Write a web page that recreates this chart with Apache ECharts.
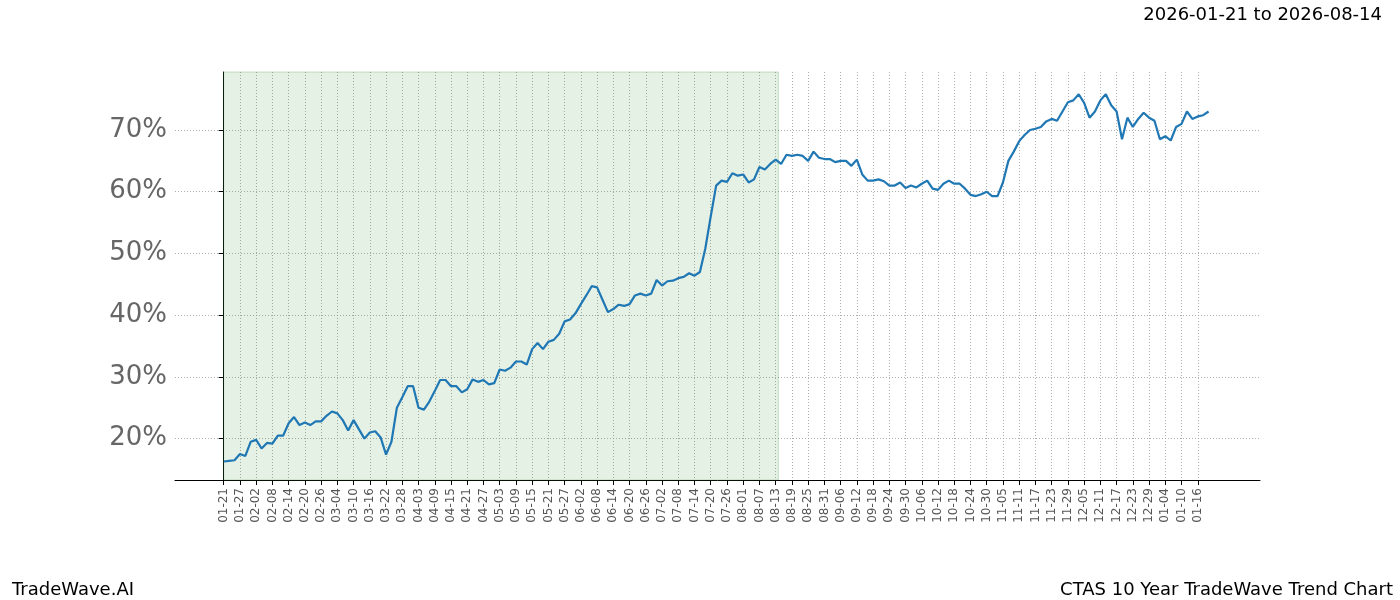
<!DOCTYPE html>
<html>
<head>
<meta charset="utf-8">
<script src="https://cdn.jsdelivr.net/npm/echarts@6/dist/echarts.min.js"></script>
<style>
html, body { margin: 0; padding: 0; background: #fff; }
#main { width: 1400px; height: 600px; }
</style>
</head>
<body>
<div id="main"></div>
<script>
// trend values, one point every 2 days starting 2026-01-21 (%)
var trendValues = [
	16.3, 16.4, 16.5, 17.5, 17.2, 19.5, 19.8, 18.4, 19.3, 19.2,
	20.5, 20.5, 22.5, 23.5, 22.2, 22.6, 22.2, 22.8, 22.8, 23.7,
	24.4, 24.1, 23, 21.3, 23, 21.5, 20, 21, 21.2, 20.2,
	17.4, 19.5, 25, 26.7, 28.5, 28.5, 25, 24.7, 26, 27.7,
	29.5, 29.5, 28.5, 28.5, 27.5, 28, 29.6, 29.2, 29.5, 28.8,
	29, 31.2, 31, 31.5, 32.5, 32.5, 32, 34.5, 35.5, 34.5,
	35.7, 36, 37, 39, 39.3, 40.3, 41.8, 43.2, 44.7, 44.5,
	42.5, 40.5, 41, 41.7, 41.5, 41.8, 43.2, 43.5, 43.2, 43.5,
	45.7, 44.8, 45.5, 45.6, 46, 46.2, 46.8, 46.4, 47, 50.8,
	56, 61, 61.8, 61.6, 63, 62.6, 62.8, 61.5, 62, 64,
	63.6, 64.5, 65.2, 64.5, 66, 65.8, 66, 65.8, 65, 66.5,
	65.5, 65.3, 65.3, 64.8, 65, 65, 64.2, 65.2, 62.8, 61.8,
	61.8, 62, 61.7, 61, 61, 61.5, 60.6, 61, 60.7, 61.3,
	61.8, 60.5, 60.3, 61.3, 61.8, 61.3, 61.3, 60.5, 59.5, 59.3,
	59.6, 60, 59.3, 59.3, 61.5, 65, 66.5, 68.2, 69.2, 70,
	70.2, 70.5, 71.4, 71.8, 71.5, 73, 74.5, 74.8, 75.8, 74.4,
	72, 73, 74.8, 75.8, 74, 73, 68.5, 72, 70.5, 71.8,
	72.8, 72, 71.5, 68.5, 69, 68.3, 70.5, 71, 73, 71.8,
	72.2, 72.4, 73
];
// x tick labels, every 6 days (every 3rd point)
var tickLabels = [
	'01-21','01-27','02-02','02-08','02-14','02-20','02-26','03-04','03-10','03-16',
	'03-22','03-28','04-03','04-09','04-15','04-21','04-27','05-03','05-09','05-15',
	'05-21','05-27','06-02','06-08','06-14','06-20','06-26','07-02','07-08','07-14',
	'07-20','07-26','08-01','08-07','08-13','08-19','08-25','08-31','09-06','09-12',
	'09-18','09-24','09-30','10-06','10-12','10-18','10-24','10-30','11-05','11-11',
	'11-17','11-23','11-29','12-05','12-11','12-17','12-23','12-29','01-04','01-10',
	'01-16'
];
var yTicks = [20, 30, 40, 50, 60, 70];
var shadeStart = 0, shadeEnd = 102.5;

var seriesData = trendValues.map(function (v, i) { return [i, v]; });
var xTickValues = tickLabels.map(function (s, k) { return k * 3; });

var chart = echarts.init(document.getElementById('main'));
chart.setOption({
	animation: false,
	grid: { left: 175, right: 140, top: 72, bottom: 120 },
	title: [
		{ text: '2026-01-21 to 2026-08-14', right: 13, top: 1, textStyle: { fontSize: 18, fontWeight: 'normal', color: '#000', fontFamily: 'DejaVu Sans' } },
		{ text: 'TradeWave.AI', left: 7, top: 576, textStyle: { fontSize: 18, fontWeight: 'normal', color: '#000', fontFamily: 'DejaVu Sans' } },
		{ text: 'CTAS 10 Year TradeWave Trend Chart', right: 2, top: 576, textStyle: { fontSize: 18, fontWeight: 'normal', color: '#000', fontFamily: 'DejaVu Sans' } }
	],
	xAxis: {
		type: 'value', min: -9, max: 191.5,
		axisLine: { show: true, onZero: false, lineStyle: { color: '#000' } },
		axisTick: { show: true, customValues: xTickValues, length: 5, lineStyle: { color: '#000' } },
		axisLabel: {
			customValues: xTickValues, rotate: 90, fontSize: 12, color: '#555', fontFamily: 'DejaVu Sans',
			formatter: function (v) { return tickLabels[Math.round(v / 3)] || ''; }
		},
		splitLine: { show: true, lineStyle: { color: '#999', type: [1, 2], width: 0.8 } }
	},
	yAxis: {
		type: 'value', min: 13.3, max: 79.4,
		axisLine: { show: true, lineStyle: { color: '#000' } },
		axisTick: { show: true, customValues: yTicks, length: 5, lineStyle: { color: '#000' } },
		axisLabel: { customValues: yTicks, fontSize: 26, color: '#666', fontFamily: 'DejaVu Sans', formatter: '{value}%' },
		splitLine: { show: true, lineStyle: { color: '#999', type: [1, 2], width: 0.8 } }
	},
	series: [{
		type: 'line',
		data: seriesData,
		showSymbol: false,
		lineStyle: { color: '#1f77b4', width: 2.2 },
		markArea: {
			silent: true,
			itemStyle: { color: 'rgba(46,139,46,0.12)', borderColor: 'rgba(46,139,46,0.25)', borderWidth: 1 },
			data: [[{ xAxis: shadeStart }, { xAxis: shadeEnd }]]
		}
	}]
});
</script>
</body>
</html>
